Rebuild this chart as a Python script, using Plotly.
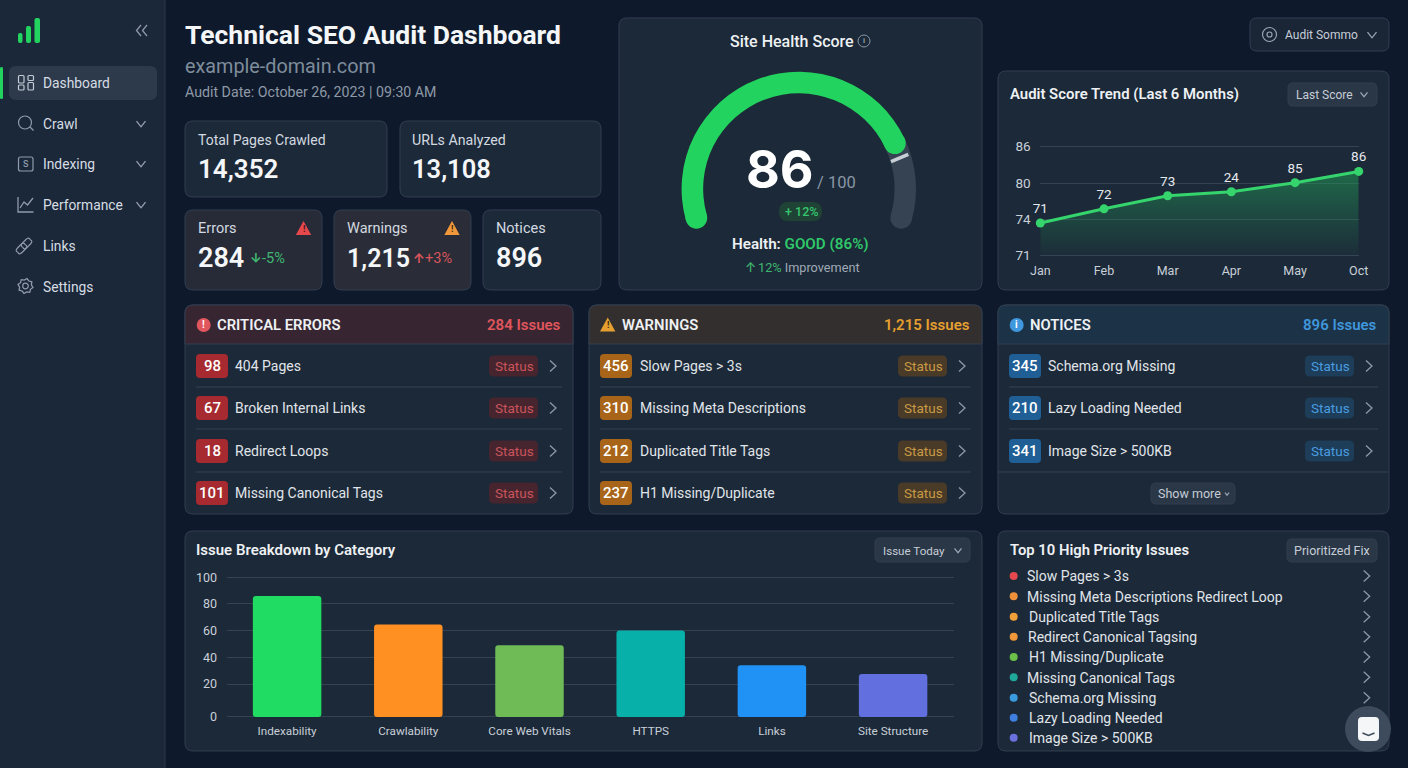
import math
import plotly.graph_objects as go

W = 1408
H = 768
FONT = "Roboto"

# colours
BG = "#0e1a2b"
SIDE = "#1b2839"
CARD = "#1c2938"
BORDER = "#323f50"
GRID = "#344252"
WHITE = "#f4f6f8"
TEXT = "#dde2e8"
GREEN = "#22d45f"

# data
nav_items = ["Dashboard", "Crawl", "Indexing", "Performance", "Links", "Settings"]

critical_counts = ["98", "67", "18", "101"]
critical_labels = ["404 Pages", "Broken Internal Links", "Redirect Loops", "Missing Canonical Tags"]
warning_counts = ["456", "310", "212", "237"]
warning_labels = ["Slow Pages > 3s", "Missing Meta Descriptions", "Duplicated Title Tags", "H1 Missing/Duplicate"]
notice_counts = ["345", "210", "341"]
notice_labels = ["Schema.org Missing", "Lazy Loading Needed", "Image Size > 500KB"]

# gauge sweep, in degrees: filled, track, hidden gap
gauge_sweep = [170.4, 41.2, 148.4]

# the trend axis has evenly spaced ticks that are not evenly spaced scores
trend_months = ["Jan", "Feb", "Mar", "Apr", "May", "Oct"]
trend_levels = [0.90, 1.29, 1.65, 1.76, 2.01, 2.32]
trend_point_labels = ["71", "72", "73", "24", "85", "86"]
trend_tick_levels = [0, 1, 2, 3]
trend_tick_labels = ["71", "74", "80", "86"]

bar_categories = ["Indexability", "Crawlability", "Core Web Vitals", "HTTPS", "Links", "Site Structure"]
bar_values = [86, 64.7, 49.1, 60.2, 34, 27.5]
bar_colors = ["#20dc62", "#ff9021", "#6fbb55", "#07b0a8", "#2092f5", "#6270df"]
# the 0 line of the original sits lower than the even 20 steps would put it
bar_floor = -4.7
bar_tick_values = [bar_floor, 20, 40, 60, 80, 100]
bar_tick_labels = ["0", "20", "40", "60", "80", "100"]

priority_labels = ["Slow Pages > 3s", "Missing Meta Descriptions Redirect Loop", "Duplicated Title Tags",
                   "Redirect Canonical Tagsing", "H1 Missing/Duplicate", "Missing Canonical Tags",
                   "Schema.org Missing", "Lazy Loading Needed", "Image Size > 500KB"]
priority_colors = ["#e5484d", "#f0903a", "#f0a03a", "#f0983a", "#6cc04a", "#1fa99a",
                   "#3a9be0", "#3f7fe0", "#6a70dd"]

shapes = []
notes = []


def P(x, y):
    return f"{x / W:.5f},{1 - y / H:.5f}"


def rrect(x0, y0, x1, y1, r, fill, line=None, lw=1, layer="below", top_only=False):
    if top_only:
        p = (f"M {P(x0, y1)} L {P(x0, y0 + r)} Q {P(x0, y0)} {P(x0 + r, y0)} L {P(x1 - r, y0)} "
             f"Q {P(x1, y0)} {P(x1, y0 + r)} L {P(x1, y1)} Z")
    else:
        p = (f"M {P(x0 + r, y0)} L {P(x1 - r, y0)} Q {P(x1, y0)} {P(x1, y0 + r)} L {P(x1, y1 - r)} "
             f"Q {P(x1, y1)} {P(x1 - r, y1)} L {P(x0 + r, y1)} Q {P(x0, y1)} {P(x0, y1 - r)} "
             f"L {P(x0, y0 + r)} Q {P(x0, y0)} {P(x0 + r, y0)} Z")
    shapes.append(dict(type="path", path=p, xref="paper", yref="paper", fillcolor=fill, layer=layer,
                       line=dict(color=line if line else "rgba(0,0,0,0)", width=lw if line else 0)))


def circle(cx, cy, r, fill="rgba(0,0,0,0)", line=None, lw=1.2, layer="below"):
    shapes.append(dict(type="circle", xref="paper", yref="paper", x0=(cx - r) / W, x1=(cx + r) / W,
                       y0=1 - (cy + r) / H, y1=1 - (cy - r) / H, fillcolor=fill, layer=layer,
                       line=dict(color=line if line else "rgba(0,0,0,0)", width=lw if line else 0)))


def stroke(points, color, lw=1.3, closed=False, layer="below", fill="rgba(0,0,0,0)"):
    p = "M " + " L ".join(P(x, y) for x, y in points) + (" Z" if closed else "")
    shapes.append(dict(type="path", path=p, xref="paper", yref="paper", fillcolor=fill, layer=layer,
                       line=dict(color=color, width=lw)))


def chev_down(x, y, color="#98a4b2", w=4.5, h=2.8):
    stroke([(x - w, y - h), (x, y + h), (x + w, y - h)], color)


def chev_right(x, y, color="#8d99a8", w=3, h=5.5):
    stroke([(x - w, y - h), (x + w, y), (x - w, y + h)], color)


def text(x, y, s, size=14, color=TEXT, weight=400, anchor="left", family=None):
    # annotations land about a pixel off the position
    nudge = {"left": -1, "right": 1, "center": 0}[anchor]
    notes.append(dict(x=(x + nudge) / W, y=1 - (y + 0.3) / H, xref="paper", yref="paper", text=s, showarrow=False,
                      xanchor=anchor, yanchor="middle", borderpad=0,
                      font=dict(family=family or FONT, size=size, color=color, weight=weight)))


def capsule(x0, y0, x1, y1, r, color):
    d = math.hypot(x1 - x0, y1 - y0)
    ux, uy = (x1 - x0) / d, (y1 - y0) / d
    nx, ny = -uy, ux
    p = (f"M {P(x0 + nx * r, y0 + ny * r)} L {P(x1 + nx * r, y1 + ny * r)} "
         f"Q {P(x1 + nx * r + ux * r * 1.4, y1 + ny * r + uy * r * 1.4)} {P(x1 + ux * r, y1 + uy * r)} "
         f"Q {P(x1 - nx * r + ux * r * 1.4, y1 - ny * r + uy * r * 1.4)} {P(x1 - nx * r, y1 - ny * r)} "
         f"L {P(x0 - nx * r, y0 - ny * r)} "
         f"Q {P(x0 - nx * r - ux * r * 1.4, y0 - ny * r - uy * r * 1.4)} {P(x0 - ux * r, y0 - uy * r)} "
         f"Q {P(x0 + nx * r - ux * r * 1.4, y0 + ny * r - uy * r * 1.4)} {P(x0 + nx * r, y0 + ny * r)} Z")
    shapes.append(dict(type="path", path=p, xref="paper", yref="paper", layer="below",
                       fillcolor="rgba(0,0,0,0)", line=dict(color=color, width=1.2)))


def triangle(cx, cy, w, h, color):
    stroke([(cx, cy - h / 2), (cx + w / 2, cy + h / 2), (cx - w / 2, cy + h / 2)], color, lw=2,
           closed=True, fill=color)


def card(x0, y0, x1, y1, fill=CARD):
    rrect(x0, y0, x1, y1, 8, fill, BORDER)


# sidebar
rrect(-10, -10, 165, H + 10, 0, SIDE)
stroke([(165, 0), (165, H)], "#2a394b", 1)
for x0, x1, top in [(18, 22.5, 33), (26, 31, 26), (34.5, 40, 18)]:
    rrect(x0, top, x1, 43, 2, GREEN)
stroke([(141, 25), (136.5, 30.5), (141, 36)], "#8d99a8")
stroke([(147, 25), (142.5, 30.5), (147, 36)], "#8d99a8")
rrect(9, 66, 157, 100, 7, "#2c3a4c")
rrect(0, 67, 3, 99, 1.5, GREEN)

nav_y = [83, 124, 164, 205, 246, 287]
for name, y in zip(nav_items, nav_y):
    text(43, y, name, 13.8, "#d7dde4")
for y in nav_y[1:4]:
    chev_down(141, y)

ICON = "#8f9bab"
for x0, y0, x1, y1 in [(18.5, 75.5, 24, 83), (28, 75.5, 33.5, 80.5), (18.5, 85, 24, 90), (28, 82.5, 33.5, 90)]:
    rrect(x0, y0, x1, y1, 1, "rgba(0,0,0,0)", "#c3cbd5", 1.2)
circle(25, 122.5, 6.5, line=ICON)
stroke([(30, 127), (33.5, 130.5)], ICON)
rrect(18.5, 157, 33, 171, 2, "rgba(0,0,0,0)", ICON, 1.2)
text(25.7, 163.7, "S", 9, ICON, 500, "center")
stroke([(18, 197), (18, 212), (33.5, 212)], ICON)
stroke([(20, 208), (24, 202), (27.5, 205), (33, 198)], ICON)
capsule(28, 242, 25, 245, 3.2, ICON)
capsule(23, 247, 20, 250, 3.2, ICON)
gear = []
for i in range(16):
    a = i * math.pi / 8 + math.pi / 16
    rad = 7.6 if i % 2 == 0 else 6
    gear.append((25.5 + rad * math.cos(a), 286 + rad * math.sin(a)))
stroke(gear, ICON, closed=True)
circle(25.5, 286, 2.8, line=ICON)

# header
text(185, 34, "Technical SEO Audit Dashboard", 26.5, WHITE, 700)
text(185, 66, "example-domain.com", 19.8, "#7f8c9b")
text(185, 92, "Audit Date: October 26, 2023 | 09:30 AM", 14.2, "#8e99a7")

# stat cards
card(185, 121, 387, 197)
card(400, 121, 601, 197)
card(185, 210, 322, 290, "#272a37")
card(334, 210, 471, 290, "#2a2d37")
card(483, 210, 601, 290)
text(198, 140, "Total Pages Crawled", 14, "#d3d9e0")
text(198, 169, "14,352", 26, WHITE, 600)
text(412, 140, "URLs Analyzed", 14.2, "#d3d9e0")
text(412, 169, "13,108", 25.5, WHITE, 600)
text(198, 228, "Errors", 14.5, "#d3d9e0")
text(198, 258, "284", 27, WHITE, 600)
text(250, 257.5, "↓", 13, "#3fb870", 700, family="Inter")
text(262, 258, "-5%", 14.5, "#3fb870")
text(347, 228, "Warnings", 14.5, "#d3d9e0")
text(347, 258, "1,215", 25, WHITE, 600)
text(413, 257.5, "↑", 13, "#d9555b", 700, family="Inter")
text(425, 258, "+3%", 14.5, "#d9555b")
text(496, 228, "Notices", 14.5, "#d3d9e0")
text(496, 258, "896", 27, WHITE, 600)
triangle(303.5, 228.5, 12, 11, "#e5484d")
text(303.5, 228.5, "!", 9, "#3a1a20", 700, "center")
triangle(452, 228.5, 12, 11, "#f0983a")
text(452, 228.5, "!", 9, "#3a2a10", 700, "center")

# gauge card
card(619, 18, 982, 290)
text(791.5, 41, "Site Health Score", 16, "#eef1f4", 500, "center")
circle(864, 41, 6, line="#8a96a5", lw=1)
text(864, 40.5, "i", 8, "#a0aab6", 500, "center")

gauge_cx, gauge_cy, gauge_r = 798.8, 188.9, 117.2
gauge_mid = 106.4
gauge_band = 21.6
gauge_start = 254.2


def on_gauge(deg):
    a = math.radians(gauge_start + deg)
    return gauge_cx + gauge_mid * math.sin(a), gauge_cy - gauge_mid * math.cos(a)


# round ends of the arc; pie sectors only have flat ones
gx, gy = on_gauge(gauge_sweep[0] + gauge_sweep[1])
circle(gx, gy, gauge_band / 2, "#364352", layer="above")
gx, gy = on_gauge(0)
circle(gx, gy, gauge_band / 2, GREEN, layer="above")
gx, gy = on_gauge(gauge_sweep[0])
circle(gx, gy, gauge_band / 2, GREEN, layer="above")
stroke([(891, 161.7), (908.3, 154.3)], "#c8ced6", 3.5, layer="above")

text(780, 169.5, "86", 52, "#ffffff", 700, "center", family="Inter")
text(836, 182.5, "/ 100", 16.5, "#8a97a6", 400, "center")
rrect(779, 202, 822, 221, 9.5, "#1f4436", layer="above")
text(801, 211, "+ 12%", 12.5, "#37c66f", 500, "center")
text(800, 243.7, "Health: <span style='color:#2fc768'>GOOD (86%)</span>", 15.2, "#eef1f4", 600, "center")
text(745, 266.5, "↑", 13, "#3fb870", 500, family="Inter")
text(758, 267, "<span style='color:#3fb870'>12%</span> Improvement", 12.7, "#a0abb7")

# audit summary button
rrect(1250, 18, 1389, 51, 7, "#1a2636", BORDER)
circle(1269.5, 34.5, 7, line="#98a4b2")
circle(1269.5, 34.5, 2.5, line="#98a4b2")
text(1285, 35, "Audit Sommo", 12, "#c6cdd6")
chev_down(1372, 35)

# trend card
card(998, 71, 1389, 290)
text(1010, 94, "Audit Score Trend (Last 6 Months)", 14.9, "#eef1f4", 600)
rrect(1288, 83, 1377, 106, 5, "#2a3747", BORDER)
text(1296, 94.5, "Last Score", 12, "#c6cdd6")
chev_down(1364, 94.5, w=3.5, h=2.2)


def issue_panel(x0, x1, head_fill, icon, title, title_x, total, accent, counts, labels, label_x,
                badge_fill, pill_fill, pill_text):
    card(x0, 305, x1, 514)
    rrect(x0, 305, x1, 344, 8, head_fill, BORDER, top_only=True)
    icon_x = x0 + 18.7
    if icon == "tri":
        triangle(icon_x, 325, 12, 11, accent)
        text(icon_x, 325, "!", 9, "#3a2a10", 700, "center")
    else:
        circle(icon_x, 325, 7, accent)
        text(icon_x, 324.5, "!" if icon == "err" else "i", 10, "#ffffff", 700, "center")
    text(title_x, 325, title, 14.8, "#eef1f4", 600)
    text(x1 - 12, 325, total, 15, accent, 600, "right")
    rows = [366, 408, 451, 493]
    for i, (count, label) in enumerate(zip(counts, labels)):
        y = rows[i]
        rrect(x0 + 11, y - 12, x0 + 43, y + 12, 4, badge_fill)
        text(x0 + 27, y, count, 15, "#ffffff", 500, "center")
        text(label_x, y, label, 14, "#e0e5ea")
        rrect(x1 - 84, y - 10.5, x1 - 35, y + 10.5, 5, pill_fill)
        text(x1 - 59, y, "Status", 13.5, pill_text, 400, "center")
        chev_right(x1 - 20, y)
        if i < 3 and i < len(counts) - 1:
            stroke([(x0 + 11, y + 21), (x1 - 11, y + 21)], "#334254", 1)


issue_panel(185, 573, "#372632", "err", "CRITICAL ERRORS", 217, "284 Issues", "#e0565c",
            critical_counts, critical_labels, 234.5, "#a62a30", "#47252f", "#c9545b")
issue_panel(589, 982, "#342f2f", "tri", "WARNINGS", 622, "1,215 Issues", "#e5a030",
            warning_counts, warning_labels, 640, "#a8651a", "#4a3a28", "#c99a45")
issue_panel(998, 1389, "#1c3247", "inf", "NOTICES", 1030, "896 Issues", "#3f97dd",
            notice_counts, notice_labels, 1048, "#1f5f96", "#1d3d58", "#4a9ce0")
stroke([(998, 472), (1389, 472)], "#334254", 1)
rrect(1151, 483, 1235, 504, 5, "#2a3747", BORDER)
text(1189.5, 493.5, "Show more", 12.5, "#c6cdd6", 400, "center")
chev_down(1227, 494, w=2, h=1.3)

# breakdown card
card(185, 531, 982, 751)
text(196, 550, "Issue Breakdown by Category", 15, "#eef1f4", 600)
rrect(875, 538, 970, 562, 5, "#2a3747", BORDER)
text(883, 550.5, "Issue Today", 11.6, "#c6cdd6")
chev_down(958, 550.5, w=3.5, h=2.2)

# top 10 card
card(998, 531, 1389, 751)
text(1009.5, 550, "Top 10 High Priority Issues", 14.8, "#eef1f4", 600)
rrect(1287, 539, 1377, 562, 5, "#2a3747", BORDER)
text(1332, 550.5, "Prioritized Fix", 12.5, "#c6cdd6", 400, "center")
priority_y = [576, 596.3, 616.7, 636.7, 657, 677.3, 697.7, 717.7, 737.7]
priority_x = [1027, 1027, 1029, 1028, 1029, 1027, 1029, 1029, 1029]
for i, name in enumerate(priority_labels):
    circle(1013.7, priority_y[i], 4, priority_colors[i])
    text(priority_x[i], priority_y[i], name, 14, "#e0e5ea")
    if i < 7:
        chev_right(1366.7, priority_y[i])

# chat button
circle(1368, 729, 23, "#3d4b5c", layer="above")
rrect(1358, 717, 1379, 741, 4, "#f4f6f8", layer="above")
stroke([(1362.5, 733), (1368.5, 735.5), (1374.5, 733)], "#3d4b5c", 1.5, layer="above")

fig = go.Figure()

fig.add_trace(go.Pie(
    values=gauge_sweep,
    sort=False,
    direction="clockwise",
    rotation=gauge_start,
    hole=0.816,
    marker=dict(colors=[GREEN, "#364352", "rgba(0,0,0,0)"], line=dict(width=0)),
    textinfo="none",
    hoverinfo="skip",
    showlegend=False,
    domain=dict(x=[(gauge_cx - gauge_r) / W, (gauge_cx + gauge_r) / W],
                y=[1 - (gauge_cy + gauge_r) / H, 1 - (gauge_cy - gauge_r) / H]),
))

fig.add_trace(go.Scatter(
    x=trend_months, y=trend_levels, mode="lines+markers+text",
    xaxis="x", yaxis="y",
    text=trend_point_labels, textposition="top center",
    textfont=dict(family=FONT, size=13.5, color="#e6eaee"),
    line=dict(color="#35d46c", width=3),
    marker=dict(color="#35d46c", size=9),
    fill="tozeroy",
    fillgradient=dict(type="vertical", colorscale=[[0, "rgba(34,160,90,0.03)"], [1, "rgba(34,170,90,0.5)"]]),
    cliponaxis=False, showlegend=False, hoverinfo="skip",
))

fig.add_trace(go.Bar(
    x=bar_categories, y=[v - bar_floor for v in bar_values], base=[bar_floor] * len(bar_values),
    xaxis="x2", yaxis="y2",
    marker=dict(color=bar_colors, line=dict(width=0)),
    showlegend=False, hoverinfo="skip",
))

hidden_tick = dict(ticks="outside", tickcolor="rgba(0,0,0,0)", ticklen=6, showline=False, zeroline=False,
                   automargin=False)
x_tick = dict(ticks="outside", tickcolor="rgba(0,0,0,0)", ticklen=1, showline=False, zeroline=False,
              automargin=False, showgrid=False)

# ranges run a little past the first and last tick, or plotly drops those grid lines
trend_pad = 0.06
trend_px = 36.33
bar_pad = 1.5
bar_px = 1.334

fig.update_layout(
    template="none",
    width=W, height=H, margin=dict(l=0, r=0, t=0, b=0, pad=0, autoexpand=False),
    autosize=False,
    paper_bgcolor=BG, plot_bgcolor="rgba(0,0,0,0)",
    font=dict(family=FONT),
    shapes=shapes, annotations=notes,
    bargap=0.435, barcornerradius=3,
    xaxis=dict(domain=[1040.3 / W, 1358.7 / W], range=[0, 5],
               tickfont=dict(family=FONT, size=12.5, color="#c9d0d8"), anchor="y", **x_tick),
    yaxis=dict(domain=[1 - (255.7 + trend_pad * trend_px) / H, 1 - (146.7 - trend_pad * trend_px) / H],
               range=[-trend_pad, 3 + trend_pad], tickmode="array",
               tickvals=trend_tick_levels, ticktext=trend_tick_labels,
               tickfont=dict(family=FONT, size=13.5, color="#c9d0d8"),
               gridcolor=GRID, anchor="x", **hidden_tick),
    xaxis2=dict(domain=[226.5 / W, 953.7 / W], range=[-0.5, 5.5],
                tickfont=dict(family=FONT, size=11.7, color="#c9d0d8"), anchor="y2", **x_tick),
    yaxis2=dict(domain=[1 - (717 + bar_pad * bar_px) / H, 1 - (577.3 - bar_pad * bar_px) / H],
                range=[bar_floor - bar_pad, 100 + bar_pad], tickmode="array",
                tickvals=bar_tick_values, ticktext=bar_tick_labels,
                tickfont=dict(family=FONT, size=12.5, color="#c9d0d8"),
                gridcolor=GRID, anchor="x2", **hidden_tick),
)

fig.write_html("out.html", config=dict(displayModeBar=False),
               post_script="document.body.style.margin='0';document.body.style.overflow='hidden';")
